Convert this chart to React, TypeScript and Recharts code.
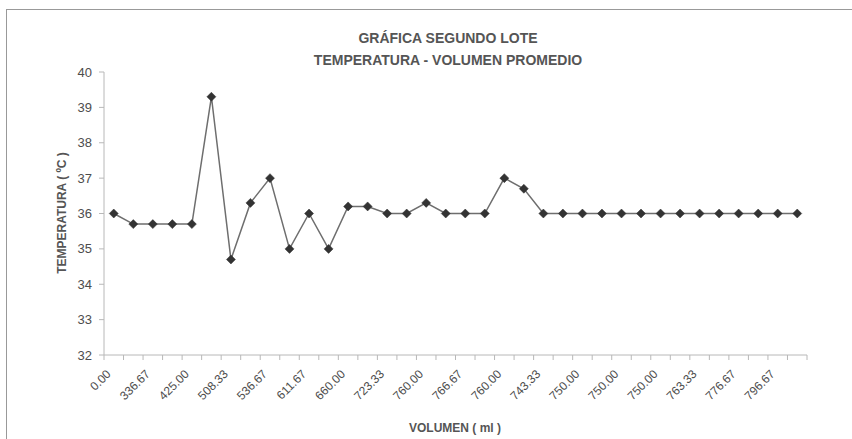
import React from 'react';
import { LineChart, Line, XAxis, YAxis } from 'recharts';

// volumen promedio (ml), one label every second sample
const volumeLabels = [
    '0.00', '336.67', '425.00', '508.33', '536.67', '611.67', '660.00', '723.33', '760.00',
    '766.67', '760.00', '743.33', '750.00', '750.00', '750.00', '763.33', '776.67', '796.67',
];

// temperatura (ºC)
const temperature = [
    36.0, 35.7, 35.7, 35.7, 35.7, 39.3, 34.7, 36.3, 37.0, 35.0, 36.0, 35.0,
    36.2, 36.2, 36.0, 36.0, 36.3, 36.0, 36.0, 36.0, 37.0, 36.7, 36.0, 36.0,
    36.0, 36.0, 36.0, 36.0, 36.0, 36.0, 36.0, 36.0, 36.0, 36.0, 36.0, 36.0,
];

const yTicks = [32, 33, 34, 35, 36, 37, 38, 39, 40];

const data = temperature.map((t, i) => ({
    idx: i,
    label: i % 2 === 0 ? volumeLabels[i / 2] : '',
    temp: t,
}));

const W = 852;
const H = 439;
const PLOT_LEFT = 104;
const PLOT_RIGHT = 807;
const PLOT_TOP = 72;
const PLOT_BOTTOM = 355;
const BAND = (PLOT_RIGHT - PLOT_LEFT) / data.length;

const FONT = '"Liberation Sans", Arial, sans-serif';
const TEXT = '#4d4d4d';
const AXIS = '#b8b8b8';

const VolumeTick = (props: any) => {
    const { x, index } = props;
    const label = data[index]?.label ?? '';
    const left = x - BAND / 2;
    const right = x + BAND / 2;
    const ax = x - 5;
    const ay = PLOT_BOTTOM + 17;
    return (
        <g>
            <line x1={left} y1={PLOT_BOTTOM} x2={left} y2={PLOT_BOTTOM + 5} stroke={AXIS} />
            {index === data.length - 1 && (
                <line x1={right} y1={PLOT_BOTTOM} x2={right} y2={PLOT_BOTTOM + 5} stroke={AXIS} />
            )}
            {label && (
                <text
                    x={ax}
                    y={ay}
                    textAnchor="end"
                    dominantBaseline="central"
                    transform={`rotate(-45 ${ax} ${ay})`}
                    fill={TEXT}
                    fontSize={12}
                    fontFamily={FONT}
                >
                    {label}
                </text>
            )}
        </g>
    );
};

const Diamond = (props: any) => {
    const { cx, cy, index } = props;
    if (cx == null || cy == null) return null;
    const r = 4.5;
    return (
        <path
            key={`d-${index}`}
            d={`M${cx},${cy - r} L${cx + r},${cy} L${cx},${cy + r} L${cx - r},${cy} Z`}
            fill="#333"
            stroke="#333"
            strokeWidth={0.5}
        />
    );
};

export default function App() {
    return (
        <div style={{ position: 'absolute', left: 0, top: 0, width: W, height: H, background: '#fff', fontFamily: FONT }}>
            <div
                style={{
                    position: 'absolute',
                    left: 6,
                    top: 9,
                    width: W - 6,
                    height: H - 9,
                    borderTop: '1px solid #999',
                    borderLeft: '1px solid #999',
                    boxSizing: 'border-box',
                }}
            />
            <div
                style={{
                    position: 'absolute',
                    left: 248,
                    top: 27,
                    width: 400,
                    textAlign: 'center',
                    fontWeight: 'bold',
                    fontSize: 14,
                    lineHeight: '22px',
                    color: '#555',
                }}
            >
                <div>GRÁFICA SEGUNDO LOTE</div>
                <div>TEMPERATURA - VOLUMEN PROMEDIO</div>
            </div>
            <div
                style={{
                    position: 'absolute',
                    left: 62 - 100,
                    top: 213 - 8,
                    width: 200,
                    lineHeight: '16px',
                    textAlign: 'center',
                    fontWeight: 'bold',
                    fontSize: 12,
                    color: '#555',
                    transform: 'rotate(-90deg)',
                }}
            >
                TEMPERATURA ( ºC )
            </div>
            <div
                style={{
                    position: 'absolute',
                    left: 355,
                    top: 428 - 8,
                    width: 200,
                    lineHeight: '16px',
                    textAlign: 'center',
                    fontWeight: 'bold',
                    fontSize: 12,
                    color: '#555',
                }}
            >
                VOLUMEN ( ml )
            </div>
            <div style={{ position: 'absolute', left: 0, top: 0 }}>
                <LineChart
                    width={W}
                    height={H}
                    data={data}
                    margin={{ top: PLOT_TOP, right: W - PLOT_RIGHT, bottom: 0, left: 0 }}
                >
                    <XAxis
                        dataKey="idx"
                        type="category"
                        interval={0}
                        height={H - PLOT_BOTTOM}
                        padding={{ left: BAND / 2, right: BAND / 2 }}
                        axisLine={{ stroke: AXIS }}
                        tickLine={false}
                        tick={<VolumeTick />}
                    />
                    <YAxis
                        width={PLOT_LEFT}
                        domain={[32, 40]}
                        ticks={yTicks}
                        interval={0}
                        axisLine={{ stroke: AXIS }}
                        tickLine={{ stroke: AXIS }}
                        tickSize={5}
                        tickMargin={7}
                        tick={{ fill: TEXT, fontSize: 13, fontFamily: FONT }}
                    />
                    <Line
                        type="linear"
                        dataKey="temp"
                        stroke="#6e6e6e"
                        strokeWidth={1.5}
                        dot={<Diamond />}
                        activeDot={false}
                        isAnimationActive={false}
                    />
                </LineChart>
            </div>
        </div>
    );
}
